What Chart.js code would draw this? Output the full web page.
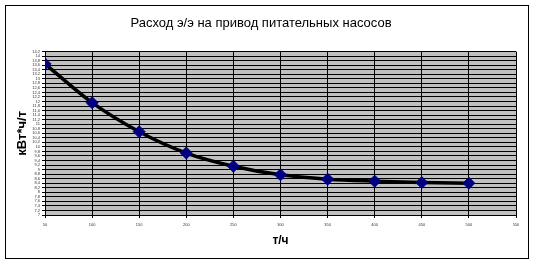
<!DOCTYPE html>
<html>
<head>
<meta charset="utf-8">
<script src="https://cdn.jsdelivr.net/npm/chart.js@4/dist/chart.umd.min.js"></script>
<style>
html,body{margin:0;padding:0;background:#fff;}
#wrap{width:536px;height:264px;position:relative;}
</style>
</head>
<body>
<div id="wrap"><canvas id="c" width="536" height="264"></canvas></div>
<script>
const chartTitle = 'Расход э/э на привод питательных насосов';
const xTitle = 'т/ч';
const yTitle = 'кВт*ч/т';
const flow = [50, 100, 150, 200, 250, 300, 350, 400, 450, 500];
const consumption = [13.66, 11.95, 10.67, 9.73, 9.15, 8.77, 8.58, 8.49, 8.43, 8.40];
const xMin = 50, xMax = 550, xStep = 50;
const yMin = 7, yMax = 14.2, yStep = 0.2;

const points = flow.map((x, i) => ({x: x, y: consumption[i]}));

const framePlugin = {
  id: 'frame',
  beforeDraw(chart) {
    const ctx = chart.ctx;
    const a = chart.chartArea;
    ctx.save();
    ctx.fillStyle = '#ffffff';
    ctx.fillRect(0, 0, chart.width, chart.height);
    ctx.strokeStyle = '#000000';
    ctx.lineWidth = 1;
    ctx.strokeRect(5.5, 5.5, 523, 253);
    ctx.fillStyle = '#c0c0c0';
    ctx.fillRect(a.left, a.top, a.right - a.left, a.bottom - a.top);
    ctx.restore();
  }
};

new Chart(document.getElementById('c'), {
  type: 'scatter',
  data: {
    datasets: [{
      data: points,
      showLine: true,
      borderColor: '#000000',
      borderWidth: 3.5,
      tension: 0.4,
      cubicInterpolationMode: 'monotone',
      pointStyle: 'rectRot',
      pointRadius: 6,
      pointHoverRadius: 6,
      pointBackgroundColor: '#000080',
      pointBorderColor: '#000080',
      pointBorderWidth: 1
    }]
  },
  options: {
    responsive: false,
    animation: false,
    devicePixelRatio: 1,
    layout: {padding: {left: 6, right: 20, top: 0, bottom: 6}},
    plugins: {
      legend: {display: false},
      tooltip: {enabled: false},
      title: {
        display: true,
        text: chartTitle,
        color: '#000000',
        font: {family: 'Liberation Sans, Arial, sans-serif', size: 13, weight: 'normal'},
        padding: {top: 16, bottom: 20}
      }
    },
    scales: {
      x: {
        type: 'linear',
        min: xMin, max: xMax,
        ticks: {stepSize: xStep, color: '#333', font: {family: 'Liberation Sans, Arial', size: 4}, padding: 4, maxRotation: 0, autoSkip: false},
        grid: {color: '#000000', lineWidth: 1, drawTicks: true, tickLength: 3, tickColor: '#000'},
        border: {color: '#000000', width: 1},
        title: {display: true, text: xTitle, color: '#000', font: {family: 'Liberation Sans, Arial', size: 12, weight: 'bold'}, padding: {top: 0, bottom: 10}},
        afterFit(s) { s.height = 43; }
      },
      y: {
        type: 'linear',
        min: yMin, max: yMax,
        ticks: {
          stepSize: yStep, color: '#333', font: {family: 'Liberation Sans, Arial', size: 4}, padding: 2, autoSkip: false,
          callback: v => String(Math.round(v * 10) / 10).replace('.', ',')
        },
        grid: {color: '#000000', lineWidth: 1, drawTicks: true, tickLength: 3, tickColor: '#000'},
        border: {color: '#000000', width: 1},
        title: {display: true, text: yTitle, color: '#000', font: {family: 'Liberation Sans, Arial', size: 13, weight: 'bold'}, padding: {top: 9, bottom: 0}},
        afterFit(s) { s.width = 39; }
      }
    }
  },
  plugins: [framePlugin]
});
</script>
</body>
</html>
